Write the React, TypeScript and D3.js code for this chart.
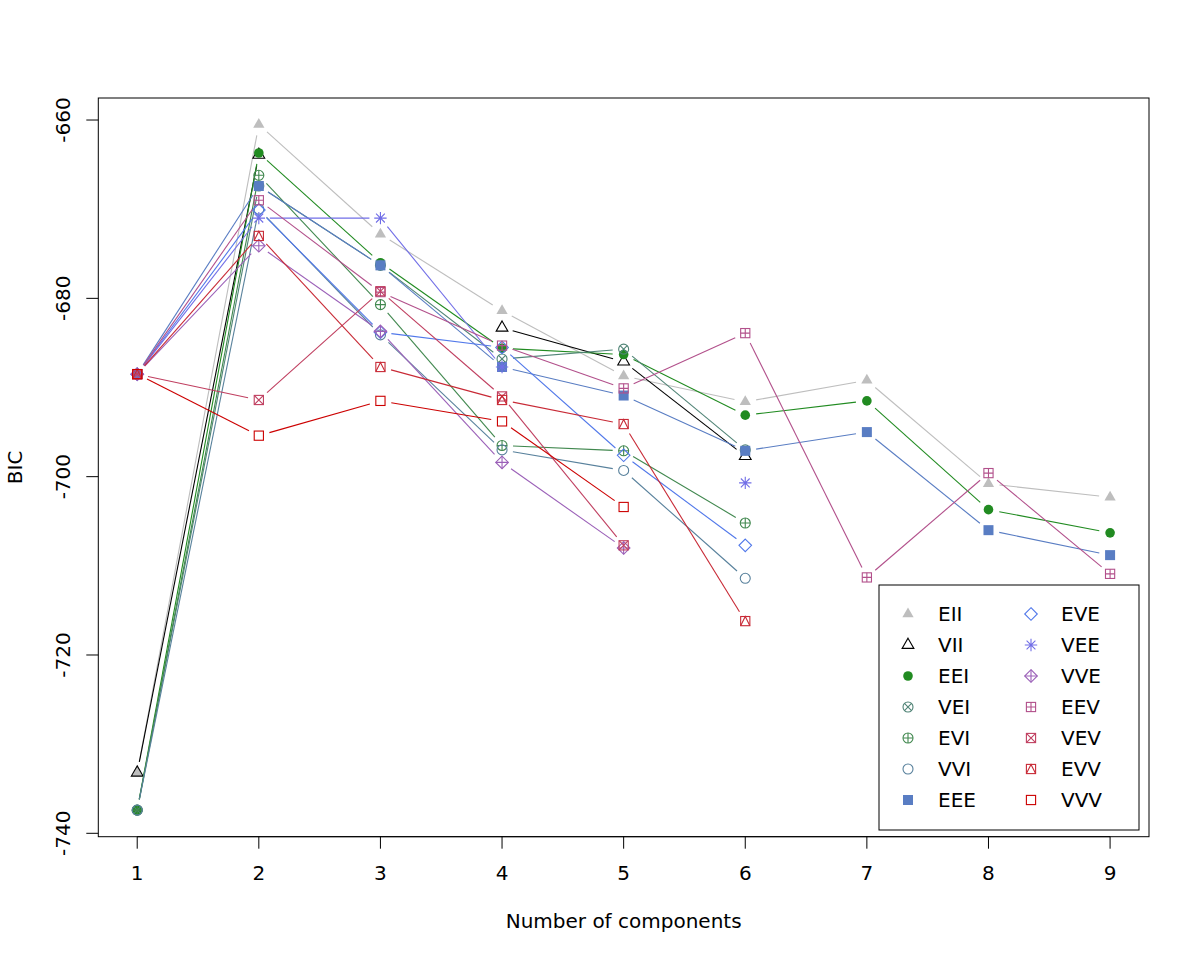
import React from 'react';
import * as d3 from 'd3';

const components = [1, 2, 3, 4, 5, 6, 7, 8, 9];
const modelNames = ['EII', 'VII', 'EEI', 'VEI', 'EVI', 'VVI', 'EEE', 'EVE', 'VEE', 'VVE', 'EEV', 'VEV', 'EVV', 'VVV'];

type V = number | null;
const EII: V[] = [-733.2, -660.5, -672.8, -681.4, -688.7, -691.6, -689.2, -700.8, -702.3];
const VII: V[] = [-733.2, -663.9, null, -683.3, -687.1, -697.7, null, null, null];
const EEI: V[] = [-737.4, -663.7, -676.0, -685.6, -686.3, -693.1, -691.5, -703.7, -706.3];
const VEI: V[] = [-737.4, -667.4, -676.3, -686.8, -685.7, -697.0, null, null, null];
const EVI: V[] = [-737.4, -666.2, -680.7, -696.5, -697.1, -705.2, null, null, null];
const VVI: V[] = [-737.4, -670.0, -684.1, -697.0, -699.3, -711.4, null, null, null];
const EEE: V[] = [-688.5, -667.4, -676.3, -687.7, -690.9, -697.1, -695.0, -706.0, -708.8];
const EVE: V[] = [-688.5, -670.1, -683.8, -685.5, -697.6, -707.7, null, null, null];
const VEE: V[] = [-688.5, -671.0, -671.0, -687.7, null, -700.7, null, null, null];
const VVE: V[] = [-688.5, -674.1, -683.7, -698.4, -708.0, null, null, null, null];
const EEV: V[] = [-688.5, -669.0, -679.3, -685.3, -690.1, -683.9, -711.3, -699.6, -710.9];
const VEV: V[] = [-688.5, -691.4, -679.2, -691.0, -707.7, null, null, null, null];
const EVV: V[] = [-688.5, -673.0, -687.7, -691.4, -694.1, -716.2, null, null, null];
const VVV: V[] = [-688.5, -695.4, -691.5, -693.8, -703.4, null, null, null, null];

const seriesValues: V[][] = [EII, VII, EEI, VEI, EVI, VVI, EEE, EVE, VEE, VVE, EEV, VEV, EVV, VVV];
const seriesColors = ['#BEBEBE', '#000000', '#218B21', '#508476', '#41884F', '#58819C', '#597DC3', '#5178EA', '#716EE7', '#9B60B8', '#B2508B', '#C03F60', '#C82A36', '#CC0000'];
const seriesPch = [17, 2, 16, 13, 10, 1, 15, 5, 8, 9, 12, 7, 14, 0];

const yTicks = [-740, -720, -700, -680, -660];
const xTickLabels = ['1', '2', '3', '4', '5', '6', '7', '8', '9'];
const xLabel = 'Number of components';
const yLabel = 'BIC';

const FONT = 'DejaVu Sans, sans-serif';
const LEFT = 98.3, RIGHT = 1149, TOP = 98, BOTTOM = 836.7;

const x = d3.scaleLinear().domain([0.68, 9.32]).range([LEFT, RIGHT]);
const y = d3.scaleLinear().domain([-740.38, -657.53]).range([BOTTOM, TOP]);

function Marker({ pch, cx, cy, color }: { pch: number; cx: number; cy: number; color: string }) {
  const r = 5;
  const s = 4.6;
  const t = 6.8;
  const d = 6.3;
  const sw = 1.1;
  const st = { stroke: color, strokeWidth: sw, fill: 'none' } as const;
  const sq = <rect x={cx - s} y={cy - s} width={2 * s} height={2 * s} {...st} />;
  const circ = <circle cx={cx} cy={cy} r={r} {...st} />;
  const triPts = (rr: number) => `${cx},${cy - rr} ${cx + rr * 0.866},${cy + rr / 2} ${cx - rr * 0.866},${cy + rr / 2}`;
  const diam = <polygon points={`${cx},${cy - d} ${cx + d},${cy} ${cx},${cy + d} ${cx - d},${cy}`} {...st} />;
  switch (pch) {
    case 0:
      return sq;
    case 1:
      return circ;
    case 2:
      return <polygon points={triPts(t)} {...st} />;
    case 5:
      return diam;
    case 7:
      return (
        <g>
          {sq}
          <path d={`M${cx - s},${cy - s}L${cx + s},${cy + s}M${cx - s},${cy + s}L${cx + s},${cy - s}`} {...st} />
        </g>
      );
    case 8: {
      const a = 6.2, b = 4.4;
      return <path d={`M${cx - a},${cy}L${cx + a},${cy}M${cx},${cy - a}L${cx},${cy + a}M${cx - b},${cy - b}L${cx + b},${cy + b}M${cx - b},${cy + b}L${cx + b},${cy - b}`} {...st} />;
    }
    case 9:
      return (
        <g>
          {diam}
          <path d={`M${cx - d},${cy}L${cx + d},${cy}M${cx},${cy - d}L${cx},${cy + d}`} {...st} />
        </g>
      );
    case 10:
      return (
        <g>
          {circ}
          <path d={`M${cx - r},${cy}L${cx + r},${cy}M${cx},${cy - r}L${cx},${cy + r}`} {...st} />
        </g>
      );
    case 12:
      return (
        <g>
          {sq}
          <path d={`M${cx - s},${cy}L${cx + s},${cy}M${cx},${cy - s}L${cx},${cy + s}`} {...st} />
        </g>
      );
    case 13: {
      const q = r * 0.7071;
      return (
        <g>
          {circ}
          <path d={`M${cx - q},${cy - q}L${cx + q},${cy + q}M${cx - q},${cy + q}L${cx + q},${cy - q}`} {...st} />
        </g>
      );
    }
    case 14:
      return (
        <g>
          {sq}
          <path d={`M${cx - s},${cy + s}L${cx},${cy - s}L${cx + s},${cy + s}`} {...st} />
        </g>
      );
    case 15:
      return <rect x={cx - 5} y={cy - 5} width={10} height={10} fill={color} stroke="none" />;
    case 16:
      return <circle cx={cx} cy={cy} r={4.8} fill={color} stroke="none" />;
    case 17:
      return <polygon points={triPts(6.5)} fill={color} stroke="none" />;
    default:
      return circ;
  }
}

const GAP = 11;

function Series({ values, color, pch }: { values: V[]; color: string; pch: number }) {
  const segs: JSX.Element[] = [];
  for (let i = 0; i < values.length - 1; i++) {
    const a = values[i], b = values[i + 1];
    if (a == null || b == null) continue;
    const x1 = x(components[i]), y1 = y(a), x2 = x(components[i + 1]), y2 = y(b);
    const dx = x2 - x1, dy = y2 - y1;
    const L = Math.hypot(dx, dy);
    if (L <= 2 * GAP) continue;
    const ux = dx / L, uy = dy / L;
    segs.push(
      <line key={i} x1={x1 + ux * GAP} y1={y1 + uy * GAP} x2={x2 - ux * GAP} y2={y2 - uy * GAP} stroke={color} strokeWidth={1.1} />
    );
  }
  return (
    <g>
      {segs}
      {values.map((v, i) => (v == null ? null : <Marker key={'m' + i} pch={pch} cx={x(components[i])} cy={y(v)} color={color} />))}
    </g>
  );
}

export default function App() {
  const legX = 879, legY = 585, legW = 260, legH = 245;
  const rowY = (i: number) => 614 + i * 31;
  return (
    <div style={{ position: 'absolute', left: 0, top: 0 }}>
      <svg width={1200} height={960} style={{ display: 'block', background: '#fff' }} fontFamily={FONT}>
        <rect x={0} y={0} width={1200} height={960} fill="#fff" />
        <defs>
          <clipPath id="plotclip">
            <rect x={LEFT} y={TOP} width={RIGHT - LEFT} height={BOTTOM - TOP} />
          </clipPath>
        </defs>
        <g clipPath="url(#plotclip)">
          {seriesValues.map((vals, k) => (
            <Series key={modelNames[k]} values={vals} color={seriesColors[k]} pch={seriesPch[k]} />
          ))}
        </g>
        <rect x={LEFT} y={TOP} width={RIGHT - LEFT} height={BOTTOM - TOP} fill="none" stroke="#000" strokeWidth={1} />
        <line x1={x(1)} x2={x(9)} y1={BOTTOM} y2={BOTTOM} stroke="#000" />
        {components.map((c, i) => (
          <g key={'xt' + c}>
            <line x1={x(c)} x2={x(c)} y1={BOTTOM} y2={BOTTOM + 12} stroke="#000" />
            <text x={x(c)} y={880.2} textAnchor="middle" fontSize={20} fill="#000">
              {xTickLabels[i]}
            </text>
          </g>
        ))}
        <text x={(LEFT + RIGHT) / 2} y={928.2} textAnchor="middle" fontSize={20} fill="#000">
          {xLabel}
        </text>
        {yTicks.map((t) => (
          <g key={'yt' + t}>
            <line x1={LEFT - 12} x2={LEFT} y1={y(t)} y2={y(t)} stroke="#000" />
            <text
              transform={`translate(${LEFT - 28.8},${y(t)}) rotate(-90)`}
              textAnchor="middle"
              fontSize={20}
              fill="#000"
            >
              {String(t)}
            </text>
          </g>
        ))}
        <text transform={`translate(${LEFT - 76.8},${(TOP + BOTTOM) / 2}) rotate(-90)`} textAnchor="middle" fontSize={20} fill="#000">
          {yLabel}
        </text>
        <rect x={legX} y={legY} width={legW} height={legH} fill="#fff" stroke="#000" strokeWidth={1} />
        {modelNames.map((m, k) => {
          const col = k < 7 ? 0 : 1;
          const row = k % 7;
          const sx = col === 0 ? 908 : 1031;
          const tx = col === 0 ? 938 : 1061;
          const cy = rowY(row);
          return (
            <g key={'lg' + m}>
              <Marker pch={seriesPch[k]} cx={sx} cy={cy} color={seriesColors[k]} />
              <text x={tx} y={cy + 7.3} fontSize={20} fill="#000">
                {m}
              </text>
            </g>
          );
        })}
      </svg>
    </div>
  );
}
